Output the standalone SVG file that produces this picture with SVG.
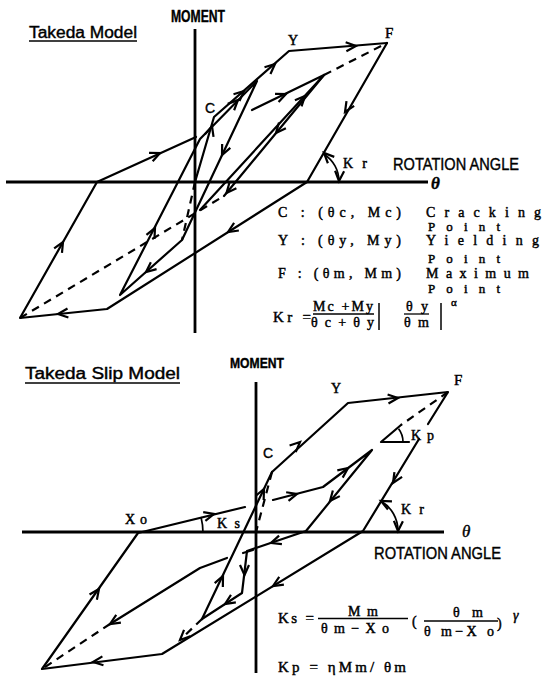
<svg xmlns="http://www.w3.org/2000/svg" width="542" height="676" viewBox="0 0 542 676">
<defs>
<marker id="ah" markerUnits="userSpaceOnUse" markerWidth="14" markerHeight="12" refX="11" refY="6" orient="auto" overflow="visible">
<path d="M1,1.5 L11,6 L1,10.5" fill="none" stroke="#000" stroke-width="2.2" stroke-linejoin="miter"/>
</marker>
</defs>
<style>
.ln{fill:none;stroke:#000;stroke-width:2.2;stroke-linejoin:round;stroke-linecap:round}
.ax{fill:none;stroke:#000;stroke-width:2.8}
.ds{fill:none;stroke:#000;stroke-width:2.2;stroke-dasharray:8,6}
.ar{fill:none;stroke:none;marker-end:url(#ah)}
.thin{fill:none;stroke:#000;stroke-width:1.7}
.g{font-family:"Liberation Sans",Arial,sans-serif;fill:#000;stroke:#000;stroke-width:0.4}
.s{font-family:"Liberation Serif","Times New Roman",serif;fill:#000;stroke:#000;stroke-width:0.45}
.th{font-family:"Liberation Serif","Times New Roman",serif;font-style:italic;fill:#000;stroke:#000;stroke-width:0.4}
</style>
<rect width="542" height="676" fill="#fff"/>

<!-- ===== TOP: Takeda Model ===== -->
<g id="top-title">
<text class="g" x="29" y="38" font-size="16" textLength="108" lengthAdjust="spacingAndGlyphs">Takeda Model</text>
<line x1="29" y1="41" x2="137" y2="41" stroke="#000" stroke-width="1.5"/>
</g>
<g id="top-axes">
<line class="ax" x1="195" y1="29" x2="195" y2="333"/>
<line class="ax" x1="6" y1="182" x2="428" y2="182"/>
<text class="g" x="171" y="22" font-size="17" font-weight="bold" textLength="54" lengthAdjust="spacingAndGlyphs">MOMENT</text>
<text class="g" x="393" y="170" font-size="17" textLength="126" lengthAdjust="spacingAndGlyphs">ROTATION ANGLE</text>
<text class="th" x="431" y="189" font-size="17" font-weight="bold">θ</text>
</g>
<g id="top-labels">
<text class="g" x="205" y="113" font-size="14">C</text>
<text class="s" x="288" y="45" font-size="14">Y</text>
<text class="s" x="385" y="38" font-size="15">F</text>
<text class="s" x="343" y="168" font-size="14" textLength="24" lengthAdjust="spacing">Kr</text>
</g>
<g id="top-connectors">
<path class="ln" d="M195,182 L214,117 L289,51 L387,43"/>
<path class="ln" d="M387,43 L307,182 L107,309 L20,318 L97,182 L196,137"/>
<path class="ds" d="M195,182 L182,240"/>
<path class="ds" d="M20,318 L224,196"/>
<path class="ds" d="M324,75 L387,43"/>
<path class="ln" d="M182,240 L120,295 L200,139 L257,81 L182,240"/>
<path class="ln" d="M252,110 L324,75 L224,196"/>
<path class="ln" d="M200,210 L324,75"/>
<path class="thin" d="M323.5,154 A32,32 0 0 1 339,182"/>
<path class="ar" d="M210.6,130.8 L212,126"/>
<path class="ar" d="M240,94.5 L244,91"/>
<path class="ar" d="M271,67.5 L275,64"/>
<path class="ar" d="M351,46.4 L356,46"/>
<path class="ar" d="M347.5,108 L345,112"/>
<path class="ar" d="M232,229.5 L228,232"/>
<path class="ar" d="M63,313.5 L58,314"/>
<path class="ar" d="M60.5,246.4 L63,242"/>
<path class="ar" d="M155.5,155 L160,153"/>
<path class="ar" d="M150,268.7 L146,272"/>
<path class="ar" d="M152.7,232.5 L155,228"/>
<path class="ar" d="M234.5,103.5 L238,100"/>
<path class="ar" d="M224.1,150.5 L222,155"/>
<path class="ar" d="M282.5,95.5 L286,94"/>
<path class="ar" d="M279.2,129.2 L276,133"/>
<path class="ar" d="M301.6,99.7 L305,96"/>
<path class="ar" d="M229.7,189.2 L226.5,193"/>
<path class="ar" d="M327,156 L324,153"/>
<path class="ar" d="M339.3,176 L339,181"/>
</g>
<g id="top-legend">
<text class="s" x="278" y="217" font-size="14" textLength="123" lengthAdjust="spacing">C : (θc, Mc)</text>
<text class="s" x="426" y="217" font-size="14" textLength="115" lengthAdjust="spacing">Cracking</text>
<text class="s" x="428" y="231" font-size="13" textLength="72" lengthAdjust="spacing">Point</text>
<text class="s" x="278" y="245" font-size="14" textLength="123" lengthAdjust="spacing">Y : (θy, My)</text>
<text class="s" x="426" y="245" font-size="14" textLength="113" lengthAdjust="spacing">Yielding</text>
<text class="s" x="428" y="263" font-size="13" textLength="72" lengthAdjust="spacing">Point</text>
<text class="s" x="278" y="278" font-size="14" textLength="123" lengthAdjust="spacing">F : (θm, Mm)</text>
<text class="s" x="426" y="278" font-size="14" textLength="103" lengthAdjust="spacing">Maximum</text>
<text class="s" x="428" y="293" font-size="13" textLength="72" lengthAdjust="spacing">Point</text>
</g>
<g id="top-formula">
<text class="s" x="273" y="322" font-size="15" textLength="38" lengthAdjust="spacing">Kr =</text>
<text class="s" x="313" y="311" font-size="14" textLength="60" lengthAdjust="spacing">Mc +My</text>
<line x1="313" y1="314" x2="374" y2="314" stroke="#000" stroke-width="1.3"/>
<text class="s" x="311" y="327" font-size="14" textLength="63" lengthAdjust="spacing">θ c + θ y</text>
<line x1="379" y1="303" x2="379" y2="330" stroke="#000" stroke-width="1.5"/>
<text class="s" x="406" y="311" font-size="14" textLength="22" lengthAdjust="spacing">θ y</text>
<line x1="404" y1="314" x2="429" y2="314" stroke="#000" stroke-width="1.3"/>
<text class="s" x="404" y="327" font-size="14" textLength="25" lengthAdjust="spacing">θ m</text>
<line x1="441" y1="303" x2="441" y2="330" stroke="#000" stroke-width="1.5"/>
<text class="s" x="451" y="306" font-size="11">α</text>
</g>

<!-- ===== BOTTOM: Takeda Slip Model ===== -->
<g id="bot-title">
<text class="g" x="25" y="379" font-size="16" textLength="155" lengthAdjust="spacingAndGlyphs">Takeda Slip Model</text>
<line x1="25" y1="383" x2="180" y2="383" stroke="#000" stroke-width="1.5"/>
</g>
<g id="bot-axes">
<line class="ax" x1="256" y1="382" x2="256" y2="673"/>
<line class="ax" x1="22" y1="532" x2="444" y2="532"/>
<text class="g" x="230" y="368" font-size="15" font-weight="bold" textLength="54" lengthAdjust="spacingAndGlyphs">MOMENT</text>
<text class="g" x="374" y="559" font-size="17" textLength="127" lengthAdjust="spacingAndGlyphs">ROTATION ANGLE</text>
<text class="th" x="462" y="537" font-size="17">θ</text>
</g>
<g id="bot-labels">
<text class="g" x="263" y="458" font-size="14">C</text>
<text class="s" x="331" y="393" font-size="14">Y</text>
<text class="s" x="454" y="385" font-size="15">F</text>
<text class="s" x="125" y="524" font-size="14" textLength="22" lengthAdjust="spacing">Xo</text>
<text class="s" x="217" y="528" font-size="14" textLength="23" lengthAdjust="spacing">Ks</text>
<text class="s" x="411" y="440" font-size="14" textLength="23" lengthAdjust="spacing">Kp</text>
<text class="s" x="401" y="514" font-size="14" textLength="23" lengthAdjust="spacing">Kr</text>
</g>
<g id="bot-connectors">
<path class="ln" d="M272,472 L348,403 L448,392 L428,424"/>
<path class="ln" d="M419,439 L363,531 L162,654 L42,669 L138,533 L245,507"/>
<path class="ln" d="M202,619 L272,472"/>
<path class="ds" d="M272,472 L256,532"/>
<path class="ds" d="M448,392 L401,425"/>
<path class="ln" d="M401,425 L381,442 L409,442"/>
<path class="thin" d="M398.6,428.8 A22,22 0 0 1 403,442"/>
<path class="ln" d="M273,500 L323,487 L372,450 L306,531 L247,551 L242,593 L202,619"/>
<path class="ln" d="M243,553 L253,550"/>
<path class="ds" d="M202,619 L180,640"/>
<path class="ln" d="M227,558 L200,568 L110,624"/>
<path class="ds" d="M110,624 L42,669"/>
<path class="thin" d="M381,501 A35,35 0 0 1 398,531"/>
<path class="thin" d="M201,517 A65,65 0 0 1 203,533"/>
<path class="ar" d="M296.3,445.4 L300,442"/>
<path class="ar" d="M393,398.5 L398,398"/>
<path class="ar" d="M395.6,478.8 L393,483"/>
<path class="ar" d="M277.3,583.4 L273,586"/>
<path class="ar" d="M98,661.4 L93,662"/>
<path class="ar" d="M96.1,593.1 L99,589"/>
<path class="ar" d="M209.2,515.2 L214,514"/>
<path class="ar" d="M220.9,580.5 L223,576"/>
<path class="ar" d="M261.8,493.5 L264,489"/>
<path class="ar" d="M292.2,495.3 L297,494"/>
<path class="ar" d="M344,471 L348,468"/>
<path class="ar" d="M333.2,497.1 L330,501"/>
<path class="ar" d="M275.8,541.4 L271,543"/>
<path class="ar" d="M244.5,570 L244.5,575"/>
<path class="ar" d="M229.2,601.3 L225,604"/>
<path class="ar" d="M183.6,636.5 L180,640"/>
<path class="ar" d="M114.3,621.4 L110,624"/>
<path class="ar" d="M385,503 L381,501"/>
<path class="ar" d="M398.2,526 L398,531"/>
</g>
<g id="bot-formula">
<text class="s" x="278" y="623" font-size="15" textLength="36" lengthAdjust="spacing">Ks =</text>
<text class="s" x="348" y="616" font-size="14" textLength="30" lengthAdjust="spacing">Mm</text>
<line x1="318" y1="618.5" x2="408" y2="618.5" stroke="#000" stroke-width="1.3"/>
<text class="s" x="321" y="633" font-size="14" textLength="68" lengthAdjust="spacing">θm−Xo</text>
<text class="s" x="412" y="626" font-size="14">(</text>
<text class="s" x="453" y="617" font-size="14" textLength="30" lengthAdjust="spacing">θ m</text>
<line x1="424" y1="621" x2="498" y2="621" stroke="#000" stroke-width="1.3"/>
<text class="s" x="424" y="636" font-size="14" textLength="70" lengthAdjust="spacing">θ m−X o</text>
<text class="s" x="497" y="628" font-size="14">)</text>
<text class="th" x="513" y="620" font-size="14">γ</text>
<text class="s" x="278" y="672" font-size="15" textLength="128" lengthAdjust="spacing">Kp = ηMm/ θm</text>
</g>
</svg>
